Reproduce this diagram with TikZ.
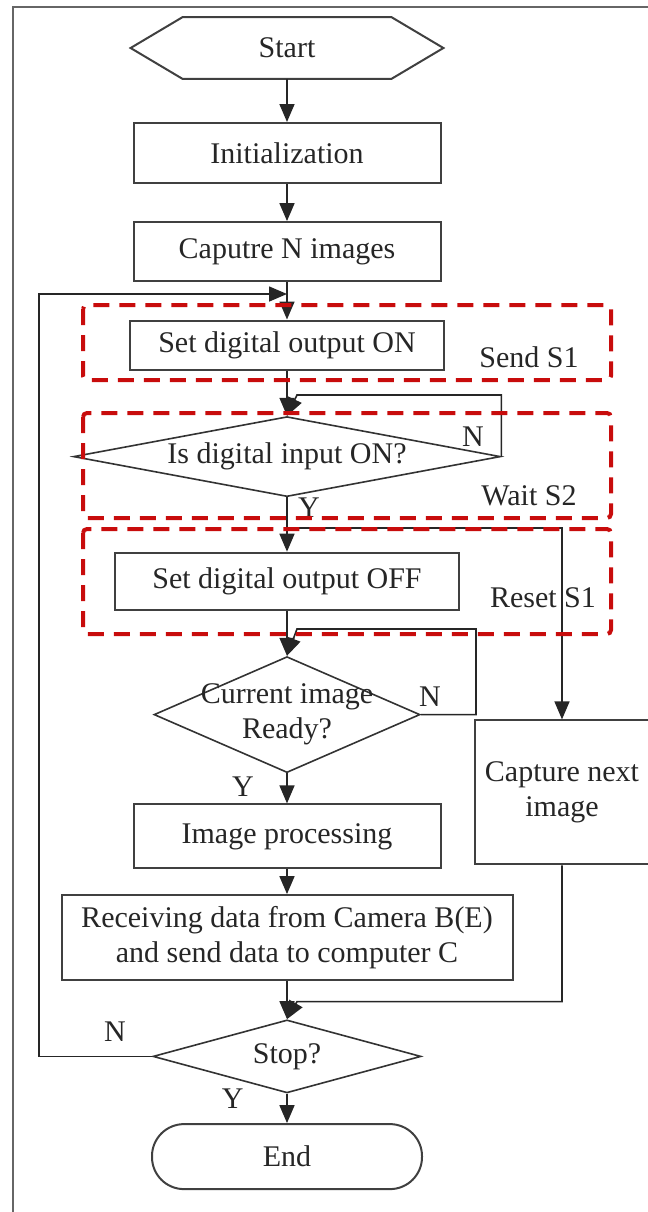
\documentclass[tikz,border=0pt]{standalone}
\usepackage{fontspec}
\setmainfont{Liberation Serif}
\usetikzlibrary{arrows.meta,calc,shapes.geometric}
\definecolor{dashred}{RGB}{200,12,12}

\begin{document}
\begin{tikzpicture}[x=1pt,y=-1pt,>={Triangle[length=9pt,width=7.5pt]},
	every node/.style={font=\fontsize{15}{17.5}\selectfont,text=black!85},
	proc/.style={draw=black!75,line width=1pt,align=center},
	decision/.style={diamond,draw=black!80,line width=0.8pt,inner sep=0pt},
	flow/.style={->,draw=black!85,line width=0.8pt},
	region/.style={draw=dashred,line width=2pt,dash pattern=on 8pt off 5pt,rounded corners=2pt},
	frame/.style={draw=black!60,line width=1pt}]
	\useasboundingbox (0,0) rectangle (324,606);
		\draw[frame] (6.3,606) |- (324,3.7);
		\node[minimum width=156pt,minimum height=30.5pt] (start) at (143.5,24) {Start};
		\draw[draw=black!75,line width=1pt] (start.west) -- ($(start.north west)+(26,0)$) -- ($(start.north east)+(-26,0)$) -- (start.east) -- ($(start.south east)+(-26,0)$) -- ($(start.south west)+(26,0)$) -- cycle;
		\node[proc,minimum width=153.5pt,minimum height=30pt] (init) at (143.5,76.5) {Initialization};
		\node[proc,minimum width=153.5pt,minimum height=29.5pt] (capn) at (143.5,125.8) {Caputre N images};
		\node[proc,minimum width=157pt,minimum height=24.5pt] (seton) at (143.5,172.5) {Set digital output ON};
		\node[decision,minimum width=213.5pt,minimum height=40pt] (input) at (143.5,228.3) {};
		\node (inputtxt) at (input) {Is digital input ON?};
		\node[proc,minimum width=172pt,minimum height=28.7pt] (setoff) at (143.5,290.7) {Set digital output OFF};
		\node[decision,minimum width=133pt,minimum height=58pt] (ready) at (143.5,357.3) {};
		\node[align=center] (readytxt) at (ready) {Current image\\Ready?};
		\node[proc,minimum width=153.5pt,minimum height=32pt] (imgproc) at (143.5,418.2) {Image processing};
		\node[proc,minimum width=225.5pt,minimum height=42.5pt] (recv) at (143.5,468.8) {Receiving data from Camera B(E)\\and send data to computer C};
		\node[proc,minimum width=87pt,minimum height=72pt] (capnext) at (281,396.2) {Capture next\\image};
		\node[decision,minimum width=134pt,minimum height=36.5pt] (stop) at (143.5,528.2) {};
		\node (stoptxt) at (stop) {Stop?};
		\node[draw=black!75,line width=1pt,rounded corners=16pt,minimum width=135pt,minimum height=32.5pt] (endnode) at (143.5,578.3) {End};
		\coordinate (loopx) at (19.6,147);
		\coordinate (join1) at (143.5,147);
		\coordinate (loop2) at (148.5,197.5);
		\coordinate (split) at (143.5,264);
		\coordinate (rdyloop) at (238,314.5);
		\coordinate (loop3) at (148.5,314.5);
		\coordinate (loop4) at (148.5,500.8);
		\draw[flow] (start) -- (init);
		\draw[flow] (init) -- (capn);
		\draw[flow] (capn) -- (seton);
		\draw[flow] (stop.west) -| (loopx) -- (join1);
		\draw[flow] (seton) -- (input);
		\draw[flow] (input.east) |- (loop2) -- (input.north);
		\draw[flow] (input) -- (setoff);
		\draw[flow] (split) -| (capnext);
		\draw[flow] (setoff) -- (ready);
		\draw[flow] (ready.east) -| (rdyloop) -- (loop3) -- (ready.north);
		\draw[flow] (ready) -- (imgproc);
		\draw[flow] (imgproc) -- (recv);
		\draw[flow] (recv) -- (stop);
		\draw[flow] (capnext.south) |- (loop4) -- (stop.north);
		\draw[flow] (stop) -- (endnode);
		\node (nin) at (236.5,218.5) {N};
		\node (yin) at (154.5,254) {Y};
		\node (nrdy) at (215,348.5) {N};
		\node (yrdy) at (121.5,393.3) {Y};
		\node (nstop) at (57.5,515.8) {N};
		\node (ystop) at (116.3,549.5) {Y};
		\node (send) at (264.5,178.5) {Send S1};
		\node (wait) at (264.5,248) {Wait S2};
		\node (reset) at (271.5,299) {Reset S1};
		\draw[region] (41.5,152.5) rectangle (305.5,190);
		\draw[region] (41.5,206.5) rectangle (305.5,259);
		\draw[region] (41.5,264.5) rectangle (305.5,317);
	\end{tikzpicture}
\end{document}
